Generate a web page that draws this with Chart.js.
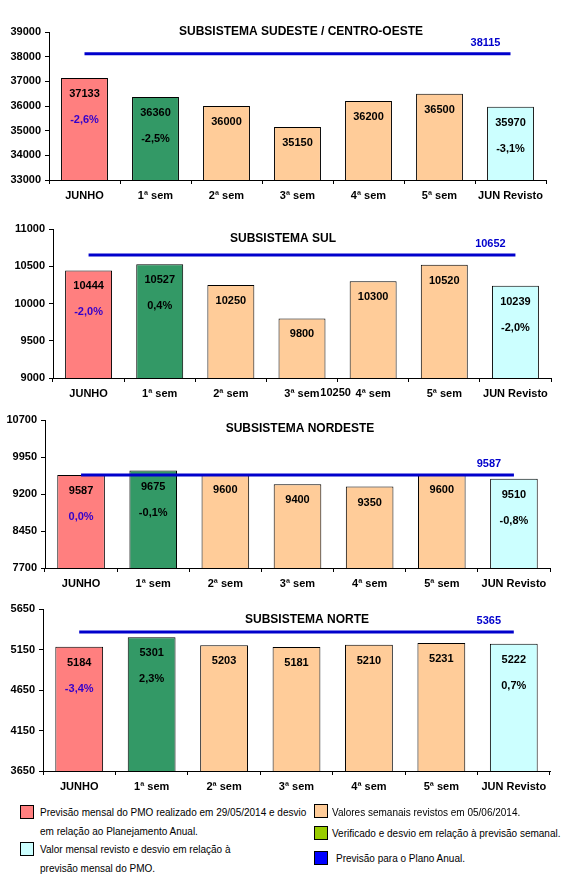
<!DOCTYPE html>
<html>
<head>
<meta charset="utf-8">
<script src="https://cdn.jsdelivr.net/npm/chart.js@4.4.1/dist/chart.umd.min.js"></script>
<style>
  body { margin: 0; background: #fff; width: 572px; height: 875px; position: relative; overflow: hidden;
         font-family: "Liberation Sans", Arial, sans-serif; }
  canvas { position: absolute; left: 0; }
  .lg { position: absolute; font-size: 10px; color: #000; line-height: 19px; white-space: nowrap; }
  .sq { position: absolute; width: 14px; height: 14px; border: 1px solid #000; box-sizing: border-box; }
</style>
</head>
<body>
<canvas id="c1"></canvas>
<canvas id="c2"></canvas>
<canvas id="c3"></canvas>
<canvas id="c4"></canvas>

<!-- legend -->
<div class="sq" style="left:20px;top:805px;background:#FF7F7F"></div>
<div class="lg" style="left:40px;top:803px">Previsão mensal do PMO realizado em 29/05/2014 e desvio<br>em relação ao Planejamento Anual.</div>
<div class="sq" style="left:20px;top:842px;background:#CCFFFF"></div>
<div class="lg" style="left:40px;top:840px">Valor mensal revisto e desvio em relação à<br>previsão mensal do PMO.</div>
<div class="sq" style="left:314px;top:804px;background:#FFCC99"></div>
<div class="lg" style="left:332px;top:803px">Valores semanais revistos em 05/06/2014.</div>
<div class="sq" style="left:314px;top:826px;background:#99CC00"></div>
<div class="lg" style="left:332px;top:824px">Verificado e desvio em relação à previsão semanal.</div>
<div class="sq" style="left:314px;top:851px;background:#0000FF"></div>
<div class="lg" style="left:336px;top:849px">Previsão para o Plano Anual.</div>

<script>
// categories shared by the four panels
const categories = ['JUNHO', '1ª sem', '2ª sem', '3ª sem', '4ª sem', '5ª sem', 'JUN Revisto'];

// SUDESTE / CENTRO-OESTE
const sudesteValues = [37133, 36360, 36000, 35150, 36200, 36500, 35970];
const sudestePct = ['-2,6%', '-2,5%', '', '', '', '', '-3,1%'];
const sudestePlan = 38115;
const sudesteTicks = [33000, 34000, 35000, 36000, 37000, 38000, 39000];

// SUL
const sulValues = [10444, 10527, 10250, 9800, 10300, 10520, 10239];
const sulPct = ['-2,0%', '0,4%', '', '', '', '', '-2,0%'];
const sulPlan = 10652;
const sulTicks = [9000, 9500, 10000, 10500, 11000];

// NORDESTE
const nordesteValues = [9587, 9675, 9600, 9400, 9350, 9600, 9510];
const nordestePct = ['0,0%', '-0,1%', '', '', '', '', '-0,8%'];
const nordestePlan = 9587;
const nordesteTicks = [7700, 8450, 9200, 9950, 10700];

// NORTE
const norteValues = [5184, 5301, 5203, 5181, 5210, 5231, 5222];
const nortePct = ['-3,4%', '2,3%', '', '', '', '', '0,7%'];
const nortePlan = 5365;
const norteTicks = [3650, 4150, 4650, 5150, 5650];

// colours
const barColors = ['#FF7F7F', '#339966', '#FFCC99', '#FFCC99', '#FFCC99', '#FFCC99', '#CCFFFF'];
const planColor = '#0000CC';
const FONT = '"Liberation Sans", Arial, sans-serif';

const PAD_TOP = 12;
const X_AXIS_H = 30;

// draws the in-bar labels, the plan value, the panel title
const barText = {
  id: 'barText',
  afterDatasetsDraw(chart) {
    const o = chart.options.plugins.barText;
    const ctx = chart.ctx;
    const bars = chart.getDatasetMeta(0).data;
    ctx.save();
    ctx.textAlign = 'center';
    ctx.textBaseline = 'middle';
    ctx.font = 'bold 11px ' + FONT;
    bars.forEach((b, i) => {
      ctx.fillStyle = '#000';
      ctx.fillText(String(o.values[i]), b.x, b.y + 16);
      if (o.pct[i]) {
        ctx.fillStyle = i === 0 ? '#3300CC' : '#000';
        ctx.fillText(o.pct[i], b.x, b.y + 42);
      }
    });
    const pts = chart.getDatasetMeta(1).data;
    const last = pts[pts.length - 1];
    ctx.fillStyle = planColor;
    ctx.fillText(String(o.plan), last.x - 25, last.y - 11);

    ctx.fillStyle = '#000';
    ctx.font = 'bold 12px ' + FONT;
    ctx.fillText(o.title, o.titleX, o.titleY);

    // stray label sitting between "3ª sem" and "4ª sem"
    if (o.extra) {
      const xs = chart.scales.x;
      const x = (xs.getPixelForValue(3) + xs.getPixelForValue(4)) / 2 - 2;
      ctx.font = 'bold 11px ' + FONT;
      ctx.fillText(o.extra, x, chart.chartArea.bottom + 15);
    }
    ctx.restore();
  }
};

function makeChart(id, d) {
  const canvas = document.getElementById(id);
  const h = (d.box.bottom - d.box.top) + PAD_TOP + X_AXIS_H;
  const top = d.box.top - PAD_TOP;
  canvas.width = 572;
  canvas.height = h;
  canvas.style.top = top + 'px';

  const tickFont = { family: FONT, size: 11, weight: 'bold' };

  return new Chart(canvas, {
    type: 'bar',
    data: {
      labels: categories,
      datasets: [
        {
          type: 'bar',
          data: d.values,
          backgroundColor: barColors,
          borderColor: '#000',
          borderWidth: 1,
          categoryPercentage: 1,
          barPercentage: 0.66,
          order: 2
        },
        {
          type: 'line',
          data: categories.map(() => d.plan),
          borderColor: planColor,
          borderWidth: 3,
          pointRadius: 0,
          fill: false,
          order: 1
        }
      ]
    },
    options: {
      responsive: false,
      animation: false,
      devicePixelRatio: 1,
      layout: { padding: { left: 0, right: 572 - d.box.right, top: PAD_TOP, bottom: 0 } },
      plugins: {
        legend: { display: false },
        tooltip: { enabled: false },
        barText: {
          values: d.values, pct: d.pct, plan: d.plan, title: d.title,
          titleX: d.titleX, titleY: d.titleY - top, extra: d.extra
        }
      },
      scales: {
        x: {
          offset: true,
          grid: { display: true, drawOnChartArea: false, offset: true, tickLength: 4, color: '#000' },
          border: { display: true, color: '#000', width: 1 },
          ticks: { color: '#000', font: tickFont, padding: 5, maxRotation: 0, autoSkip: false },
          afterFit: s => { s.height = X_AXIS_H; }
        },
        y: {
          min: d.ticks[0],
          max: d.ticks[d.ticks.length - 1],
          grid: { drawOnChartArea: false, tickLength: 4, color: '#000' },
          border: { display: true, color: '#000', width: 1 },
          ticks: {
            stepSize: d.ticks[1] - d.ticks[0],
            color: '#000',
            font: tickFont,
            padding: 4,
            callback: v => String(v)
          },
          afterFit: s => { s.width = d.box.left; }
        }
      }
    },
    plugins: [barText]
  });
}

makeChart('c1', {
  values: sudesteValues, pct: sudestePct, plan: sudestePlan, ticks: sudesteTicks,
  title: 'SUBSISTEMA SUDESTE / CENTRO-OESTE', titleX: 301, titleY: 32,
  box: { left: 49, right: 546, top: 32, bottom: 180 }
});
makeChart('c2', {
  values: sulValues, pct: sulPct, plan: sulPlan, ticks: sulTicks,
  title: 'SUBSISTEMA SUL', titleX: 283, titleY: 239, extra: '10250',
  box: { left: 53, right: 551, top: 229, bottom: 378 }
});
makeChart('c3', {
  values: nordesteValues, pct: nordestePct, plan: nordestePlan, ticks: nordesteTicks,
  title: 'SUBSISTEMA NORDESTE', titleX: 300, titleY: 429,
  box: { left: 45, right: 550, top: 420, bottom: 568 }
});
makeChart('c4', {
  values: norteValues, pct: nortePct, plan: nortePlan, ticks: norteTicks,
  title: 'SUBSISTEMA NORTE', titleX: 307, titleY: 620,
  box: { left: 43, right: 550, top: 609, bottom: 771 }
});
</script>
</body>
</html>
